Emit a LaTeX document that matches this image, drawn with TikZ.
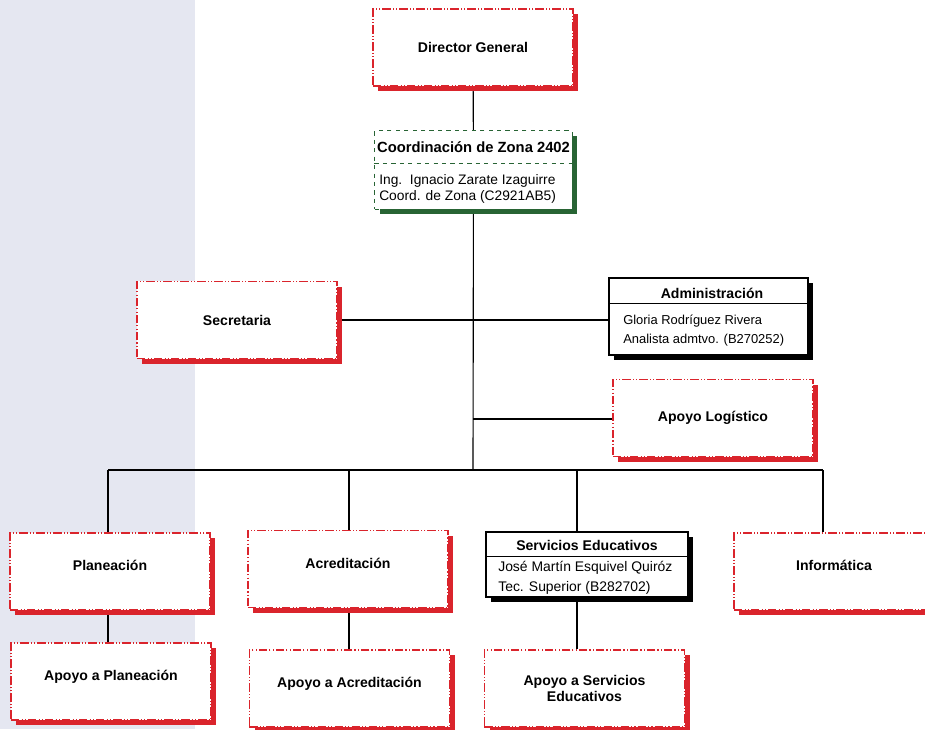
\documentclass[tikz,border=0pt]{standalone}
\usepackage{fontspec}
\setmainfont{Liberation Sans}
\usetikzlibrary{shadows,backgrounds}
\definecolor{rojo}{RGB}{218,36,44}
\definecolor{verde}{RGB}{40,100,52}
\definecolor{fondo}{RGB}{229,231,241}
\tikzset{
  cajaroja/.style={draw=rojo, line width=0.9pt,
    dash pattern=on 6pt off 1.5pt on 0.8pt off 1.5pt on 0.8pt off 1.5pt,
    fill=white, minimum width=5cm, minimum height=1.925cm, align=center,
    font=\bfseries\fontsize{10}{12}\selectfont,
    drop shadow={shadow xshift=3.6pt, shadow yshift=-3.6pt, fill=rojo, opacity=1}},
  cajanegra/.style={draw, line width=0.8pt, fill=white,
    drop shadow={shadow xshift=3.6pt, shadow yshift=-3.6pt, fill=black, opacity=1}},
  cajaverde/.style={draw=verde, dashed, line width=0.7pt, fill=white,
    drop shadow={shadow xshift=3.6pt, shadow yshift=-3.6pt, fill=verde, opacity=1}},
  arriba/.style={text depth=8.5pt},
  titulo/.style={font=\bfseries\fontsize{10}{12}\selectfont, inner sep=0pt},
  cuerpo/.style={font=\fontsize{9.8}{11.8}\selectfont, align=left, inner sep=0pt},
  linea/.style={line width=0.8pt},
}
\begin{document}
\begin{tikzpicture}[x=0.025cm,y=-0.025cm]
\useasboundingbox (0,0) rectangle (925,729);
\clip (0,0) rectangle (925,729);

\node[cajaroja] (dir) at (473,47.5) {Director General};                 % Director

\node[cajaverde, minimum width=4.925cm, minimum height=1.95cm] (coord) at (473.5,170) {};  % Coordinacion
\node[titulo, font=\bfseries\fontsize{10.5}{12}\selectfont] (coordt) at (473.5,147) {Coordinación de Zona 2402};
\draw[verde, dashed, line width=0.7pt] (coord.west |- 0,163) -- (coord.east |- 0,163);
\node[cuerpo, anchor=west] (coordb) at (379,189) {Ing.\ \ Ignacio Zarate Izaguirre\\Coord. de Zona (C2921AB5)};

\node[cajaroja] (sec) at (237,320) {Secretaria};                        % Secretaria

\node[cajanegra, minimum width=4.975cm, minimum height=1.925cm] (adm) at (708.5,316.5) {};  % Administracion
\node[titulo] (admt) at (712,293) {Administración};
\draw (adm.west |- 0,303) -- (adm.east |- 0,303);
\node[cuerpo, font=\fontsize{9.2}{13.5}\selectfont, anchor=west] (admb) at (623,331) {Gloria Rodríguez Rivera\\Analista admtvo. (B270252)};

\node[cajaroja] (log) at (713,418) {Apoyo Logístico};                   % Apoyo Logistico

\node[cajaroja, arriba] (pla) at (110,571.5) {Planeación};              % Planeacion
\node[cajaroja, arriba] (acr) at (348,569) {Acreditación};              % Acreditacion

\node[cajanegra, minimum width=5.05cm, minimum height=1.625cm] (ser) at (587,564.5) {};  % Servicios
\node[titulo] (sert) at (587,545) {Servicios Educativos};
\draw (ser.west |- 0,556) -- (ser.east |- 0,556);
\node[cuerpo, font=\fontsize{9.9}{14}\selectfont, anchor=west] (serb) at (498,578) {José Martín Esquivel Quiróz\\Tec. Superior (B282702)};

\node[cajaroja, arriba] (inf) at (834,571.5) {Informática};             % Informatica

\node[cajaroja, arriba] (apla) at (111,681.5) {Apoyo a Planeación};     % Apoyos
\node[cajaroja, arriba] (aacr) at (349.5,688.5) {Apoyo a Acreditación};
\node[cajaroja] (aser) at (584.5,688.5) {Apoyo a Servicios\\Educativos};

\coordinate (bus) at (473,470);
\coordinate (lj) at (473,419);
\coordinate (b1) at (108,470);
\coordinate (b2) at (349,470);
\coordinate (b3) at (577,470);
\coordinate (b4) at (823,470);

\begin{scope}[on background layer]
\fill[fondo] (0,0) rectangle (195,729);                                 % Fondo izquierdo
\draw[linea] (dir) -- (coord);
\draw[linea] (coord) -- (bus);
\draw[linea] (sec.east) -- (sec.east -| adm.west);
\draw[linea] (lj) -- (lj -| log.west);
\draw[linea] (b1) -- (b4);
\draw[linea] (b1) -- (b1 |- pla.north);
\draw[linea] (b2) -- (b2 |- acr.north);
\draw[linea] (b3) -- (b3 |- ser.north);
\draw[linea] (b4) -- (b4 |- inf.north);
\draw[linea] (pla.south -| b1) -- (b1 |- apla.north);
\draw[linea] (acr.south -| b2) -- (b2 |- aacr.north);
\draw[linea] (ser.south -| b3) -- (b3 |- aser.north);
\end{scope}
\end{tikzpicture}
\end{document}
